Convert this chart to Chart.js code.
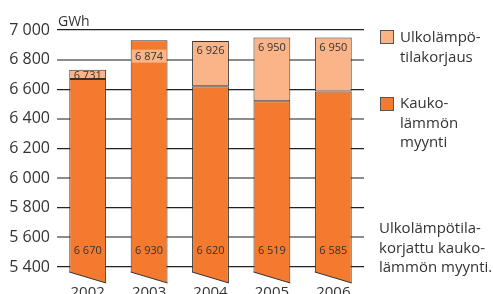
<!DOCTYPE html>
<html>
<head>
<meta charset="utf-8">
<script src="https://cdn.jsdelivr.net/npm/chart.js@4/dist/chart.umd.min.js"></script>
<style>
  html, body { margin: 0; padding: 0; background: #fff; overflow: hidden; }
  #wrap { position: relative; width: 493px; height: 294px; overflow: hidden; font-family: "Open Sans", sans-serif; color: #333; }
  #c { position: absolute; left: 0; top: 0; }
  .t { position: absolute; font-size: 15px; line-height: 19.5px; white-space: nowrap; }
  .sq { position: absolute; width: 12px; height: 12px; border: 1px solid #555; }
</style>
</head>
<body>
<div id="wrap">
  <canvas id="c" width="493" height="320"></canvas>
  <div class="t" style="left:58px; top:11px; font-size:14px;">GWh</div>
  <div class="sq" style="left:380px; top:30px; background:#FBB487;"></div>
  <div class="t" style="left:400px; top:27px;">Ulkolämpö-<br>tilakorjaus</div>
  <div class="sq" style="left:380px; top:97px; background:#F37A2F;"></div>
  <div class="t" style="left:400px; top:93px;">Kauko-<br>lämmön<br>myynti</div>
  <div class="t" style="left:379px; top:218px;">Ulkolämpötila-<br>korjattu kauko-<br>lämmön myynti.</div>
</div>
<script>
const years = ['2002', '2003', '2004', '2005', '2006'];
const sales = [6670, 6930, 6620, 6519, 6585];       // Kaukolämmön myynti
const corrected = [6731, 6874, 6926, 6950, 6950];   // Ulkolämpötilakorjattu myynti
const yTicks = [5400, 5600, 5800, 6000, 6200, 6400, 6600, 6800, 7000];
const yMin = 5292;
const yMax = 7000;

const darkOrange = '#F37A2F';
const lightOrange = '#FBB487';

function fmt(v) {
    return String(v).replace(/\B(?=(\d{3})+(?!\d))/g, ' ');
}

// korjaus näytetään kelluvana palkkina myynnin päällä
const correction = corrected.map((c, i) => c > sales[i] ? [sales[i], c] : null);

const barLabels = {
    id: 'barLabels',
    afterDatasetsDraw(chart) {
        const ctx = chart.ctx;
        const yScale = chart.scales.y;
        const dark = chart.getDatasetMeta(0).data;
        const light = chart.getDatasetMeta(1).data;
        const bottom = chart.chartArea.bottom;
        ctx.save();
        ctx.font = '11px "Open Sans", sans-serif';
        ctx.textAlign = 'center';
        ctx.textBaseline = 'middle';
        dark.forEach((bar, i) => {
            const left = bar.x - bar.width / 2;
            const right = bar.x + bar.width / 2;
            const drop = 11;
            const slope = drop / bar.width;
            // vino alareuna
            ctx.fillStyle = '#fff';
            ctx.beginPath();
            ctx.moveTo(left - 1, bottom - drop - slope);
            ctx.lineTo(right + 1, bottom + slope);
            ctx.lineTo(right + 1, bottom + 1);
            ctx.lineTo(left - 1, bottom + 1);
            ctx.closePath();
            ctx.fill();
            ctx.strokeStyle = '#333';
            ctx.lineWidth = 1;
            ctx.beginPath();
            ctx.moveTo(left, bottom - drop);
            ctx.lineTo(right, bottom);
            ctx.stroke();

            ctx.fillStyle = '#333';
            ctx.fillText(fmt(sales[i]), bar.x, bottom - 32);

            const lb = light[i];
            if (correction[i]) {
                const h = lb.base - lb.y;
                ctx.fillText(fmt(corrected[i]), bar.x, lb.y + Math.min(10, h / 2 + 1.5));
            } else {
                const yc = yScale.getPixelForValue(corrected[i]);
                ctx.fillStyle = lightOrange;
                ctx.fillRect(left + 1, yc + 1, bar.width - 2, 13);
                ctx.fillStyle = '#333';
                ctx.fillText(fmt(corrected[i]), bar.x, yc + 8);
            }
        });
        ctx.restore();
    }
};

new Chart(document.getElementById('c'), {
    type: 'bar',
    data: {
        labels: years,
        datasets: [{
            label: 'Kaukolämmön myynti',
            data: sales,
            base: yMin,
            backgroundColor: darkOrange,
            borderColor: '#333',
            borderWidth: 1,
            categoryPercentage: 1,
            barPercentage: 0.6
        }, {
            label: 'Ulkolämpötilakorjaus',
            data: correction,
            backgroundColor: lightOrange,
            borderColor: '#333',
            borderWidth: 1,
            borderSkipped: false,
            categoryPercentage: 1,
            barPercentage: 0.6
        }]
    },
    options: {
        responsive: false,
        animation: false,
        devicePixelRatio: 1,
        layout: { padding: { top: 30, right: 129, left: 0, bottom: 0 } },
        plugins: { legend: { display: false }, tooltip: { enabled: false } },
        scales: {
            x: {
                stacked: true,
                grid: { display: false, drawTicks: false },
                border: { display: false },
                ticks: { color: '#333', font: { family: 'Open Sans', size: 15 }, padding: 1 },
                afterFit: s => { s.height = 320 - 283; }
            },
            y: {
                min: yMin,
                max: yMax,
                afterBuildTicks: s => { s.ticks = yTicks.map(v => ({ value: v })); },
                border: { display: false },
                grid: {
                    drawTicks: false,
                    color: c => c.index % 2 === 0 ? '#222' : '#8c8c8c',
                    lineWidth: c => c.index % 2 === 0 ? 1.3 : 2
                },
                ticks: {
                    color: '#333',
                    font: { family: 'Open Sans', size: 16 },
                    padding: 7,
                    callback: v => fmt(v)
                },
                afterFit: s => { s.width = 57; }
            }
        }
    },
    plugins: [barLabels]
});
</script>
</body>
</html>
